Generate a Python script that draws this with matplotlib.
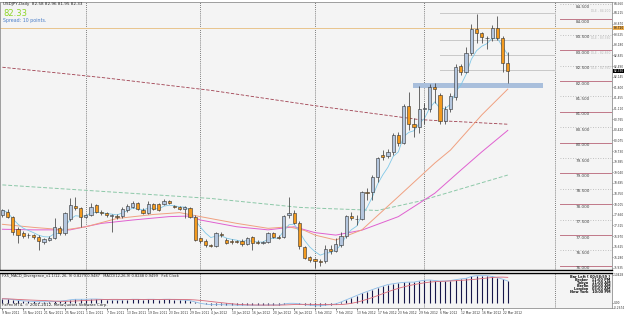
import matplotlib.pyplot as plt
from matplotlib.patches import Rectangle
import numpy as np
import pandas as pd

# daily USDJPY bars, 9 Nov 2011 - 23 Mar 2012
dates = pd.bdate_range('2011-11-09', '2012-03-23')

opens = [77.65, 77.76, 77.60, 77.19, 77.06, 77.00, 77.00, 76.95, 76.78, 76.84,
         76.90, 77.22, 77.06, 77.51, 77.95, 77.87, 77.60, 77.65, 77.98, 77.74,
         77.71, 77.63, 77.62, 77.62, 77.81, 77.92, 78.03, 77.82, 77.71, 78.00,
         78.00, 78.01, 78.11, 77.93, 77.92, 77.84, 77.87, 77.60, 76.90, 76.82,
         76.68, 76.63, 77.05, 76.84, 76.80, 76.80, 76.82, 76.71, 76.93, 76.79,
         76.75, 76.79, 77.06, 76.95, 76.95, 77.64, 77.73, 77.40, 76.62, 76.28,
         76.21, 76.16, 76.17, 76.56, 76.48, 76.68, 76.97, 77.62, 77.53, 77.52,
         78.39, 78.39, 78.90, 79.60, 79.58, 79.70, 80.25, 80.00, 81.20, 80.60,
         80.50, 81.10, 81.10, 81.80, 81.55, 80.70, 81.10, 81.49, 82.50, 82.31,
         82.90, 83.68, 83.55, 83.39, 83.39, 83.73, 83.39, 82.58]
highs = [77.85, 77.84, 77.63, 77.27, 77.12, 77.08, 77.05, 77.00, 76.90, 76.96,
         77.54, 77.30, 77.75, 78.19, 78.25, 77.90, 77.70, 78.03, 78.02, 77.80,
         77.75, 77.70, 77.68, 77.90, 78.00, 78.10, 78.08, 77.88, 78.10, 78.05,
         78.03, 78.18, 78.15, 77.98, 77.96, 77.95, 77.92, 77.65, 76.95, 76.86,
         76.72, 77.10, 77.10, 76.90, 76.86, 76.85, 76.86, 76.95, 76.98, 76.84,
         76.82, 77.10, 77.10, 77.00, 77.65, 78.25, 77.80, 77.45, 76.66, 76.33,
         76.26, 76.24, 76.68, 76.68, 76.90, 77.11, 77.66, 77.76, 77.65, 78.42,
         78.52, 78.95, 79.55, 79.76, 79.80, 80.30, 80.35, 81.25, 81.65, 80.80,
         81.85, 81.30, 81.90, 81.95, 81.60, 81.20, 81.60, 82.57, 82.55, 83.12,
         83.84, 84.18, 83.60, 83.45, 83.82, 84.11, 83.45, 82.96]
lows = [77.60, 77.57, 77.00, 76.73, 76.90, 76.92, 76.88, 76.52, 76.72, 76.80,
        76.87, 77.00, 77.00, 77.45, 77.82, 77.27, 77.55, 77.62, 77.72, 77.65,
        77.60, 77.11, 77.52, 77.55, 77.75, 77.88, 77.80, 77.67, 77.68, 77.80,
        77.78, 77.98, 78.00, 77.88, 77.80, 77.54, 77.55, 76.80, 76.75, 76.62,
        76.60, 76.60, 76.95, 76.72, 76.72, 76.74, 76.66, 76.68, 76.52, 76.70,
        76.70, 76.75, 76.90, 76.86, 76.90, 77.55, 77.35, 76.55, 76.22, 76.12,
        75.92, 76.00, 76.10, 76.40, 76.44, 76.60, 76.92, 77.50, 77.33, 77.48,
        78.14, 78.14, 78.73, 79.45, 79.50, 79.60, 79.90, 79.95, 80.40, 80.20,
        80.30, 80.60, 81.00, 81.30, 80.60, 80.60, 81.00, 81.40, 82.20, 82.25,
        82.85, 83.23, 83.23, 83.03, 83.30, 83.35, 82.31, 81.95]
closes = [77.81, 77.60, 77.11, 77.00, 76.97, 77.00, 76.93, 76.82, 76.86, 76.92,
          77.27, 77.06, 77.71, 77.98, 77.87, 77.58, 77.65, 77.92, 77.76, 77.71,
          77.65, 77.64, 77.60, 77.85, 77.95, 78.03, 77.84, 77.71, 78.01, 77.84,
          77.82, 78.12, 78.03, 77.92, 77.84, 77.90, 77.60, 76.84, 76.81, 76.68,
          76.63, 77.06, 77.00, 76.75, 76.78, 76.78, 76.71, 76.90, 76.73, 76.73,
          76.77, 77.06, 76.95, 76.90, 77.62, 77.73, 77.40, 76.63, 76.25, 76.19,
          76.16, 76.12, 76.54, 76.48, 76.70, 76.98, 77.62, 77.55, 77.52, 78.39,
          78.38, 78.90, 79.49, 79.55, 79.71, 80.25, 80.00, 81.20, 80.60, 80.50,
          81.10, 81.10, 81.80, 81.73, 80.70, 81.10, 81.52, 82.47, 82.31, 82.90,
          83.68, 83.55, 83.42, 83.39, 83.73, 83.39, 82.58, 82.34]

# moving averages (bar index, price)
salmon_idx = [0, 6, 12, 16, 22, 29, 34, 38, 45, 51, 55, 58, 60, 64, 69, 76, 83, 86, 92, 97]
salmon_val = [77.35, 77.25, 77.17, 77.27, 77.54, 77.67, 77.73, 77.60, 77.38, 77.22,
              77.27, 77.15, 77.00, 76.84, 77.17, 78.25, 79.34, 79.76, 80.90, 81.74]
magenta_idx = [0, 6, 13, 19, 25, 32, 36, 38, 45, 51, 56, 60, 64, 69, 76, 83, 88, 92, 97]
magenta_val = [77.19, 77.17, 77.17, 77.38, 77.49, 77.60, 77.62, 77.49, 77.27, 77.17,
               77.27, 77.08, 77.00, 77.16, 77.60, 78.36, 79.11, 79.70, 80.40]
green_idx = [0, 20, 40, 57, 61, 72, 80, 88, 97]
green_val = [78.63, 78.41, 78.19, 77.90, 77.87, 77.80, 78.10, 78.50, 78.95]
maroon_idx = [0, 20, 40, 60, 80, 97]
maroon_val = [82.45, 82.10, 81.70, 81.20, 80.75, 80.60]

# MACD histogram
macd = [0.14, 0.13, 0.11, 0.08, 0.06, 0.05, 0.04, 0.03, 0.03, 0.03,
        0.04, 0.05, 0.07, 0.10, 0.12, 0.12, 0.12, 0.13, 0.13, 0.12,
        0.11, 0.10, 0.10, 0.10, 0.11, 0.12, 0.12, 0.11, 0.12, 0.12,
        0.11, 0.12, 0.12, 0.11, 0.10, 0.09, 0.07, 0.02, -0.03, -0.06,
        -0.08, -0.08, -0.08, -0.09, -0.09, -0.10, -0.10, -0.10, -0.10, -0.10,
        -0.10, -0.09, -0.09, -0.09, -0.06, -0.03, -0.03, -0.05, -0.08, -0.10,
        -0.12, -0.12, -0.10, -0.08, -0.05, 0.02, 0.10, 0.18, 0.26, 0.34,
        0.41, 0.48, 0.55, 0.61, 0.67, 0.70, 0.73, 0.75, 0.76, 0.76,
        0.80, 0.83, 0.84, 0.82, 0.80, 0.80, 0.82, 0.85, 0.88, 0.90,
        0.97, 1.00, 1.00, 1.00, 0.97, 0.93, 0.87, 0.80]

level_lines = [76, 77, 78, 79, 80, 81, 82, 83, 84]
level_dots = [76.5, 77.5, 78.5, 79.5, 80.5, 81.5, 82.5, 83.5, 84.5]
pivot_levels = [84.20, 83.33, 82.85, 82.36]
hline_price = 83.72
bid = 82.33
zone_lo, zone_hi = 81.77, 81.95
zone_start, zone_end = 78.8, 103.8
separators = [16, 38, 60, 81, 106]
level_start = 107

W, H = 625, 315
PX_BAR, X0 = 5.21, 2.4
AXR = 612

def box(x0, y0, x1, y1):
    return [x0 / W, 1 - y1 / H, (x1 - x0) / W, (y1 - y0) / H]

def price_at(y):
    return 84 - (y - 19.5) / 30.8

bg = '#f4f4f4'
fig = plt.figure(figsize=(6.25, 3.15), dpi=100)
fig.patch.set_facecolor('white')
ax = fig.add_axes(box(0, 2, AXR, 270))
axm = fig.add_axes(box(0, 273, AXR, 308))
xl = (-X0 / PX_BAR, (AXR - X0) / PX_BAR)

x = np.arange(len(dates))
o, h, l, c = map(np.array, (opens, highs, lows, closes))
up = c >= o

for a in (ax, axm):
    a.set_facecolor(bg)
    a.set_xlim(*xl)
    for s in a.spines.values():
        s.set_color('#909090')
        s.set_linewidth(0.6)
    for sx in separators:
        a.axvline(sx, color='#555555', ls=(0, (1, 1.5)), lw=0.6, zorder=1)
ax.spines['bottom'].set_color('black')
ax.spines['bottom'].set_linewidth(1.0)
axm.spines['top'].set_color('black')
axm.spines['top'].set_linewidth(1.0)

ax.set_ylim(price_at(270), price_at(2))

# round levels on the right
for lv in level_lines:
    ax.plot([level_start, xl[1]], [lv, lv], color='#c07888', lw=0.7, zorder=2)
    ax.text(level_start + 4.5, lv - 0.08, f'{lv:.3f}', fontsize=3, ha='center',
            va='center', color='#444444')
for lv in level_dots:
    ax.plot([level_start, xl[1]], [lv, lv], color='#b0b0b0', lw=0.6, ls=(0, (1, 2)), zorder=2)
    ax.text(level_start + 4.5, lv - 0.08, f'{lv:.3f}', fontsize=3, ha='center',
            va='center', color='#444444')

# pivot lines
for pv in pivot_levels:
    ax.plot([84, 106], [pv, pv], color='#c8c8c8', lw=0.7, zorder=2)
    ax.text(xl[1] - 0.3, pv + 0.06, f'DLE - {pv:.3f}', fontsize=2.2, ha='right',
            va='center', color='#b8b8b8')

ax.axhline(hline_price, color='#e8c48c', lw=0.7, zorder=2)

ax.add_patch(Rectangle((zone_start, zone_lo), zone_end - zone_start, zone_hi - zone_lo,
                       facecolor='#a9bfdc', edgecolor='none', zorder=3))

# moving averages
ema = pd.Series(closes).ewm(span=5, adjust=False).mean()
ax.plot(green_idx, green_val, color='#8cc8a8', lw=0.7, ls=(0, (4, 2)), zorder=3)
ax.plot(maroon_idx, maroon_val, color='#a04050', lw=0.6, ls=(0, (4, 2)), zorder=3)
ax.plot(magenta_idx, magenta_val, color='#e060d0', lw=0.7, zorder=3)
ax.plot(salmon_idx, salmon_val, color='#f0a080', lw=0.7, zorder=3)
ax.plot(x, ema, color='#80c8e8', lw=0.6, zorder=3)

# candles
ax.vlines(x, l, h, color='#303030', lw=0.5, zorder=4)
body_lo = np.minimum(o, c)
body_h = np.maximum(np.abs(c - o), 0.012)
ax.bar(x, body_h, bottom=body_lo, width=0.62,
       color=np.where(up, '#b4c6de', '#f39a1e'), edgecolor='#303030', lw=0.4, zorder=5)

# right price axis
ax.yaxis.tick_right()
ticks = 84.56 - 0.345 * np.arange(26)
ax.set_yticks(ticks)
ax.set_yticklabels([f'{t:.3f}' for t in ticks], fontsize=2.1, color='#333333')
ax.tick_params(axis='y', length=1.0, width=0.4, pad=0.5, colors='#333333')
ax.get_yticklabels()[0].set_va('top')
ax.set_xticks([])

def pricebox(p, txt, fc, tc):
    ax.text(xl[1] + 0.3, p, txt, fontsize=2.1, color=tc, va='center', ha='left',
            bbox=dict(boxstyle='square,pad=0.12', fc=fc, ec='none'), zorder=10, clip_on=False)

pricebox(bid, f'{bid:.3f}', 'black', 'white')
pricebox(hline_price, f'{hline_price:.3f}', '#f0b050', 'black')

fig.text(3 / W, 1 - 4 / H, 'USDJPY,Daily  82.58 82.96 81.95 82.33', fontsize=3,
         va='center', color='#222222')
fig.text(3 / W, 1 - 14 / H, f'{bid:.2f}', fontsize=6, va='center', color='#8ed628')
fig.text(3 / W, 1 - 20.5 / H, 'Spread: 10 points.', fontsize=3.4, va='center', color='#4a7ec8')

# MACD panel
sig = pd.Series(macd).rolling(9, min_periods=1).mean()
axm.set_ylim(-0.205, 1.1)
axm.vlines(x, 0, macd, color='#16164a', lw=0.8, zorder=3)
axm.plot(x, macd, color='#8cbce8', lw=0.6, zorder=4)
axm.plot(x, sig, color='#d86878', lw=0.6, zorder=4)
axm.yaxis.tick_right()
axm.set_yticks([1.0428, 0.0, -0.2])
axm.set_yticklabels(['1.0428', '0.00', '-0.2674'], fontsize=2.1, color='#333333')
axm.tick_params(axis='y', length=1.0, width=0.4, pad=0.5)
axm.text(0.003, 0.9, 'FX5_MACD_Divergence_v1.1(12, 26, 9) 0.8279 0.9487   MACD(12,26,9) 0.8248 0.9499   Fx6 Clock',
         transform=axm.transAxes, fontsize=2.6, va='center', color='#222222')
axm.text(0.003, 0.08, 'FxPro MT4, \u00a9 2001-2012, MetaQuotes Software Corp.',
         transform=axm.transAxes, fontsize=2.8, va='center', color='#222222')
clock = ['Bar Left [ 00:58:59 ]', 'Broker   11:00 PM', 'Tokyo   11:00 AM',
         'Berlin   04:00 AM', 'London   03:00 AM', 'New York   10:00 PM']
for i, t in enumerate(clock):
    axm.text(0.997, 0.88 - i * 0.085, t, transform=axm.transAxes, fontsize=2.5,
             ha='right', va='center', color='#111111', fontweight='bold')

tick_pos = x[::4]
axm.set_xticks(tick_pos)
axm.set_xticklabels([f'{d.day} {d.strftime("%b %Y")}' for d in dates[::4]],
                    fontsize=2.2, ha='left', color='#333333')
axm.tick_params(axis='x', length=1.2, width=0.4, pad=0.8)

fig.savefig('out.png', dpi=100, facecolor='white')
